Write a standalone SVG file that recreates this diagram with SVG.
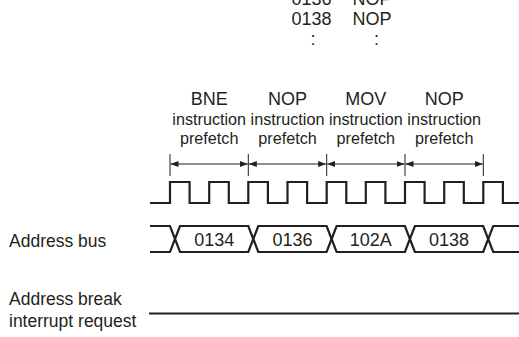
<svg xmlns="http://www.w3.org/2000/svg" width="519" height="337" viewBox="0 0 519 337">
<defs>
<style>
.t{font-family:"Liberation Sans",Arial,sans-serif;fill:#231f20}
.big{font-size:18px}
.lab{font-size:17.5px}
.val{font-size:18px}
.sm{font-size:16.2px}
.wave{fill:none;stroke:#231f20;stroke-width:2.2;stroke-linejoin:miter}
.dim{stroke:#231f20;stroke-width:1;fill:none}
</style>
<marker id="ah" viewBox="0 0 8 6" refX="8" refY="3" markerWidth="8" markerHeight="6" markerUnits="userSpaceOnUse" orient="auto-start-reverse">
<path d="M0,0 L8,3 L0,6 Z" fill="#231f20"/>
</marker>
</defs>
<rect width="519" height="337" fill="#fff"/>

<g id="listing">
<text class="t val" x="311.5" y="5" text-anchor="middle">0136</text>
<text class="t val" x="372" y="5" text-anchor="middle">NOP</text>
<text class="t val" x="311.5" y="25" text-anchor="middle">0138</text>
<text class="t val" x="372" y="25" text-anchor="middle">NOP</text>
<text class="t val" x="313" y="45" text-anchor="middle">:</text>
<text class="t val" x="376.5" y="45" text-anchor="middle">:</text>
</g>

<g id="prefetch-labels">
<text class="t big" x="209.2" y="105" text-anchor="middle">BNE</text>
<text class="t sm" x="209.2" y="125" text-anchor="middle">instruction</text>
<text class="t sm" x="209.2" y="144" text-anchor="middle">prefetch</text>
<text class="t big" x="287.5" y="105" text-anchor="middle">NOP</text>
<text class="t sm" x="287.5" y="125" text-anchor="middle">instruction</text>
<text class="t sm" x="287.5" y="144" text-anchor="middle">prefetch</text>
<text class="t big" x="365.8" y="105" text-anchor="middle">MOV</text>
<text class="t sm" x="365.8" y="125" text-anchor="middle">instruction</text>
<text class="t sm" x="365.8" y="144" text-anchor="middle">prefetch</text>
<text class="t big" x="444.2" y="105" text-anchor="middle">NOP</text>
<text class="t sm" x="444.2" y="125" text-anchor="middle">instruction</text>
<text class="t sm" x="444.2" y="144" text-anchor="middle">prefetch</text>
</g>

<g id="connectors">
<path class="dim" d="M170,154V176M248.3,154V176M326.7,154V176M405,154V176M483.3,154V176"/>
<path class="dim" d="M170.5,164H247.8" marker-start="url(#ah)" marker-end="url(#ah)"/>
<path class="dim" d="M248.8,164H326.2" marker-start="url(#ah)" marker-end="url(#ah)"/>
<path class="dim" d="M327.2,164H404.5" marker-start="url(#ah)" marker-end="url(#ah)"/>
<path class="dim" d="M405.5,164H482.8" marker-start="url(#ah)" marker-end="url(#ah)"/>
</g>

<g id="clock">
<path class="wave" d="M150,203H170V182H189.6V203H209.2V182H228.8V203H248.3V182H267.9V203H287.5V182H307.1V203H326.7V182H346.3V203H365.8V182H385.4V203H405V182H424.6V203H444.2V182H463.8V203H483.3V182H502.9V203H519"/>
</g>

<g id="address-bus">
<text class="t lab" x="9" y="247">Address bus</text>
<path class="wave" d="M150,226H170L175,239L170,252H150"/>
<path class="wave" d="M175,239L180,226H248.3L253.3,239L248.3,252H180Z"/>
<path class="wave" d="M253.3,239L258.3,226H326.6L331.6,239L326.6,252H258.3Z"/>
<path class="wave" d="M331.6,239L336.6,226H404.9L409.9,239L404.9,252H336.6Z"/>
<path class="wave" d="M409.9,239L414.9,226H483.2L488.2,239L483.2,252H414.9Z"/>
<path class="wave" d="M519,226H493.2L488.2,239L493.2,252H519"/>
<text class="t val" x="214.2" y="245.5" text-anchor="middle">0134</text>
<text class="t val" x="292.5" y="245.5" text-anchor="middle">0136</text>
<text class="t val" x="370.8" y="245.5" text-anchor="middle">102A</text>
<text class="t val" x="449" y="245.5" text-anchor="middle">0138</text>
</g>

<g id="address-break">
<text class="t lab" x="9" y="305">Address break</text>
<text class="t lab" x="9" y="327">interrupt request</text>
<path class="wave" d="M149,313.5H519"/>
</g>
</svg>
